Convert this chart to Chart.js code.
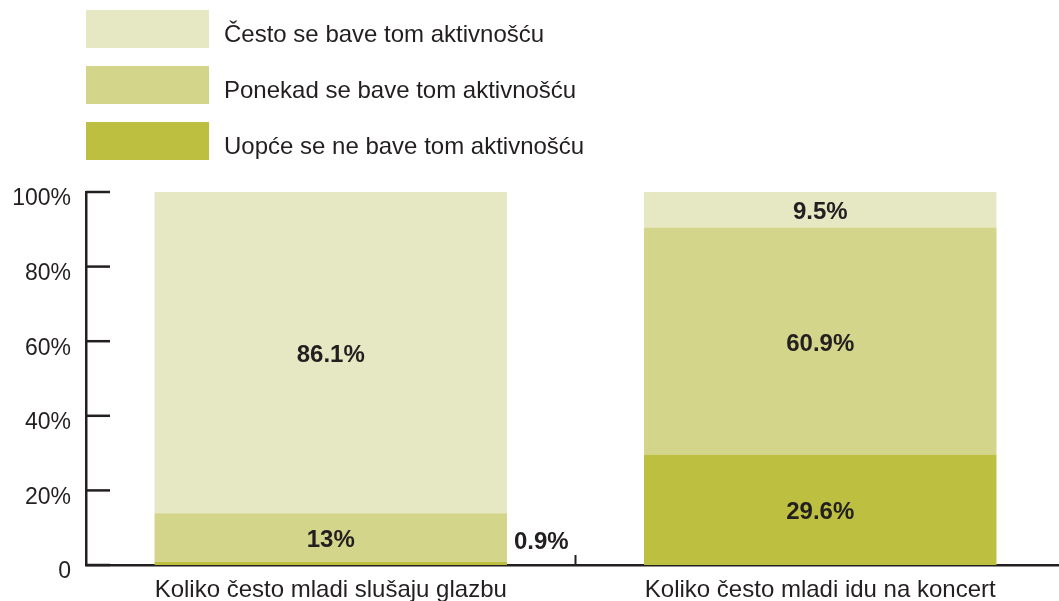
<!DOCTYPE html>
<html>
<head>
<meta charset="utf-8">
<script src="https://cdn.jsdelivr.net/npm/chart.js@4"></script>
<style>
  html, body { margin: 0; padding: 0; background: #fff; overflow: hidden; }
  #wrap { width: 1065px; height: 601px; position: relative; }
</style>
</head>
<body>
<div id="wrap"><canvas id="graph"></canvas></div>
<script>
/*********************** data ***********************/
const categories = ['Koliko često mladi slušaju glazbu', 'Koliko često mladi idu na koncert'];
const seriesNames = ['Uopće se ne bave tom aktivnošću', 'Ponekad se bave tom aktivnošću', 'Često se bave tom aktivnošću'];
const uopce = [0.9, 29.6];
const ponekad = [13, 60.9];
const cesto = [86.1, 9.5];
const yTicks = [0, 20, 40, 60, 80, 100];

const colors = ['#bcbf40', '#d3d58b', '#e6e7c3'];
const ink = '#231f20';
const font = '"Liberation Sans", Arial, sans-serif';

/******************* legend (top left) *******************/
const legendBoxes = {
    id: 'legendBoxes',
    afterDraw(chart) {
        const ctx = chart.ctx;
        ctx.save();
        // top to bottom: Često, Ponekad, Uopće
        for (let i = 0; i < 3; i++) {
            const k = 2 - i;
            const y = 10 + i * 56;
            ctx.fillStyle = colors[k];
            ctx.fillRect(86, y, 123, 38);
            ctx.fillStyle = ink;
            ctx.font = '24px ' + font;
            ctx.textBaseline = 'middle';
            ctx.textAlign = 'left';
            ctx.fillText(seriesNames[k], 224, y + 25);
        }
        ctx.restore();
    }
};

/************** tick marks drawn inside the plot **************/
const innerTicks = {
    id: 'innerTicks',
    afterDraw(chart) {
        const ctx = chart.ctx;
        const ys = chart.scales.y, xs = chart.scales.x;
        ctx.save();
        ctx.strokeStyle = ink;
        ctx.lineWidth = 2.5;
        ys.ticks.forEach(t => {
            const py = ys.getPixelForValue(t.value);
            ctx.beginPath();
            ctx.moveTo(chart.chartArea.left, py);
            ctx.lineTo(chart.chartArea.left + 24, py);
            ctx.stroke();
        });
        // divider between the two categories
        const mid = (xs.getPixelForValue(0) + xs.getPixelForValue(1)) / 2;
        ctx.lineWidth = 2;
        ctx.beginPath();
        ctx.moveTo(mid, chart.chartArea.bottom);
        ctx.lineTo(mid, chart.chartArea.bottom - 10);
        ctx.stroke();
        ctx.restore();
    }
};

/********************* value labels *********************/
const valueLabels = {
    id: 'valueLabels',
    afterDatasetsDraw(chart) {
        const ctx = chart.ctx;
        ctx.save();
        ctx.fillStyle = ink;
        ctx.font = 'bold 24px ' + font;
        ctx.textBaseline = 'middle';
        chart.data.datasets.forEach((ds, i) => {
            chart.getDatasetMeta(i).data.forEach((bar, j) => {
                const v = ds.data[j];
                const p = bar.getProps(['x', 'y', 'base', 'width'], true);
                const txt = v + '%';
                if (v < 3) {
                    ctx.textAlign = 'left';
                    ctx.fillText(txt, p.x + p.width / 2 + 7, chart.chartArea.bottom - 23);
                } else {
                    ctx.textAlign = 'center';
                    ctx.fillText(txt, p.x, (p.y + p.base) / 2 + 3);
                }
            });
        });
        ctx.restore();
    }
};

/*********************** chart ***********************/
const ctx = document.getElementById('graph');
new Chart(ctx, {
    type: 'bar',
    data: {
        labels: categories,
        datasets: [
            { label: seriesNames[0], data: uopce, backgroundColor: colors[0] },
            { label: seriesNames[1], data: ponekad, backgroundColor: colors[1] },
            { label: seriesNames[2], data: cesto, backgroundColor: colors[2] }
        ]
    },
    options: {
        responsive: true,
        maintainAspectRatio: false,
        animation: false,
        devicePixelRatio: 1,
        barPercentage: 0.72,
        categoryPercentage: 1,
        layout: { padding: { top: 192, left: 0, right: 0, bottom: 0 } },
        plugins: {
            legend: { display: false },
            tooltip: { enabled: false }
        },
        scales: {
            x: {
                stacked: true,
                grid: { display: false, drawTicks: false },
                border: { display: true, color: ink, width: 2.5 },
                ticks: { color: ink, font: { family: font, size: 24 }, padding: 11, maxRotation: 0, autoSkip: false },
                afterFit(scale) { scale.height = 36; }
            },
            y: {
                stacked: true,
                min: 0,
                max: 100,
                afterBuildTicks(scale) { scale.ticks = yTicks.map(v => ({ value: v })); },
                grid: { display: false, drawTicks: false },
                border: { display: true, color: ink, width: 2.5 },
                ticks: {
                    color: ink,
                    font: { family: font, size: 23 },
                    padding: 15,
                    labelOffset: 7,
                    callback: v => v === 0 ? '0' : v + '%'
                },
                afterFit(scale) { scale.width = 86; }
            }
        }
    },
    plugins: [legendBoxes, innerTicks, valueLabels]
});
</script>
</body>
</html>
